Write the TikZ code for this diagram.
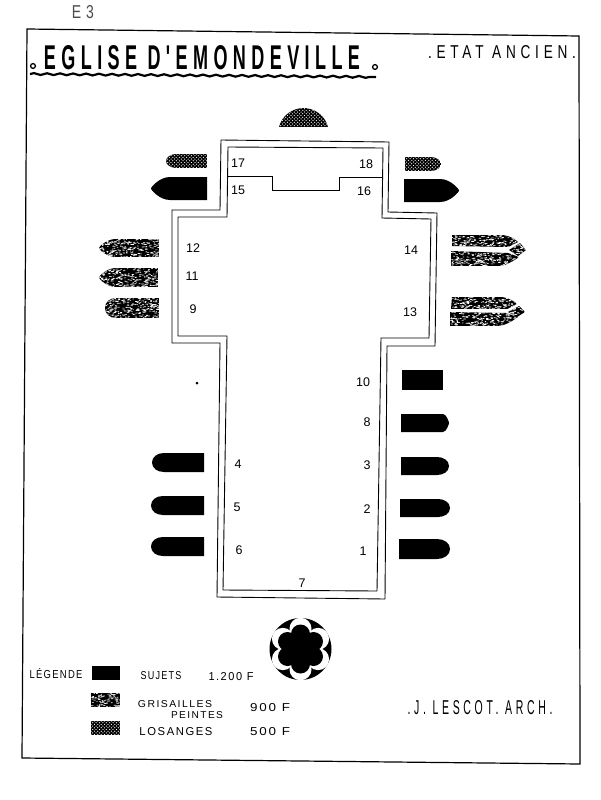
\documentclass[tikz,border=0pt]{standalone}
\usepackage{graphicx}
\usepackage{fontspec}
\setmainfont{Liberation Sans}
\newfontfamily\titlefont[LetterSpace=30]{Liberation Sans}
\newfontfamily\thinfont[LetterSpace=14]{Liberation Sans}
\newfontfamily\widefont[LetterSpace=35]{Liberation Sans}
\usetikzlibrary{decorations.pathmorphing}
\tikzset{
  plan/.style={line width=.9pt,draw=black,line join=miter},
  sujet/.style={fill=black},
  lbl/.style={inner sep=0pt,font=\fontsize{12.5}{14}\selectfont,text=black},
  fitted/.style={inner sep=0pt,text=black},
}
% tip x, base x, top y, bottom y, signed head length, roundness
\newcommand\winpath[6]{(#2,#3) -- ({#1+#5},#3) .. controls ({#1+0.45*#5},#3) and (#1,{(#3+#4)/2-#6*(#4-#3)/2}) .. (#1,{(#3+#4)/2}) .. controls (#1,{(#3+#4)/2+#6*(#4-#3)/2}) and ({#1+0.45*#5},#4) .. ({#1+#5},#4) -- (#2,#4) -- cycle}
% path, seed, xmin, xmax, ymin, ymax
\newcommand\grisaille[6]{\begin{scope}
  \clip #1;
  \fill[black] (#3,#5) rectangle (#4,#6);
  \pgfmathsetseed{#2}
  \pgfmathtruncatemacro\nsp{(#4-#3)*(#6-#5)/4.5}
  \foreach \i in {1,...,\nsp}{
    \pgfmathsetmacro\sx{#3+rnd*(#4-#3)}
    \pgfmathsetmacro\sy{#5+rnd*(#6-#5)}
    \pgfmathsetmacro\sl{0.5+rnd*1.8}
    \draw[white,line width=.65pt,line cap=round] (\sx,\sy) -- ++(\sl,0.4*rnd-0.2);
  }
\end{scope}}
% path, xmin, xmax, ymin, ymax : black ground with a staggered mesh of white dots
\newcommand\losange[5]{\begin{scope}
  \clip #1;
  \fill[black] (#2,#4) rectangle (#3,#5);
  \pgfmathtruncatemacro\ncols{(#3-#2)/1.7+1}
  \pgfmathtruncatemacro\nrows{(#5-#4)/1.7+1}
  \foreach \c in {0,...,\ncols}{
    \foreach \r in {0,...,\nrows}{
      \pgfmathtruncatemacro\evenodd{mod(\c+\r,2)}
      \ifnum\evenodd=0
        \fill[white] ({#2+\c*1.7},{#4+\r*1.7}) circle (.62);
      \fi
    }
  }
\end{scope}}
\newcommand\fittext[3]{\resizebox{#1pt}{#2pt}{#3}}
\begin{document}
\begin{tikzpicture}[x=1pt,y=-1pt]
\useasboundingbox (0,0) rectangle (600,800);
\fill[white] (0,0) rectangle (600,800);

% frame
\draw[line width=1.2pt,line join=miter] (27,29) -- (579,36) -- (580,764) -- (22,758) -- cycle;

% heading
\node[fitted,font=\titlefont\bfseries] (title) at (202,58) {\fittext{316}{24}{EGLISE D'EMONDEVILLE}};
\draw[line width=1.3pt,fill=white] (33,66) circle (2.4);
\draw[line width=1.3pt,fill=white] (375,67) circle (2.4);
\draw[line width=2.2pt,decorate,decoration={snake,amplitude=.9pt,segment length=13pt}] (30,74) -- (376,77);
\node[fitted,font=\widefont] (etat) at (502,52) {\fittext{148}{13}{.ETAT ANCIEN.}};
\node[fitted,font=\widefont,text=black!70] (e3) at (83,12) {\fittext{22}{13}{E3}};

% plan: outer and inner walls
\draw[plan] (221,140) -- (389,142) -- (388,212) -- (437,213) -- (435,346) -- (387,346) -- (385,599) -- (217,597) -- (220,343) -- (172,343) -- (172,210) -- (220,210) -- cycle;
\draw[plan] (228,147) -- (383,148) -- (382,218) -- (431,219) -- (429,338) -- (381,338) -- (377,591) -- (223,590) -- (227,336) -- (178,336) -- (178,217) -- (227,217) -- cycle;
\draw[plan] (228,176) -- (272,176) -- (272,190) -- (339,190) -- (339,177) -- (383,177);

% numbers
\node[lbl] (n17) at (238,163) {17};
\node[lbl] (n18) at (366,164) {18};
\node[lbl] (n15) at (238,190) {15};
\node[lbl] (n16) at (364,191) {16};
\node[lbl] (n12) at (193,248) {12};
\node[lbl] (n11) at (192,276) {11};
\node[lbl] (n9) at (193,309) {9};
\node[lbl] (n14) at (411,250) {14};
\node[lbl] (n13) at (410,312) {13};
\node[lbl] (n10) at (363,382) {10};
\node[lbl] (n8) at (367,422) {8};
\node[lbl] (n3) at (367,465) {3};
\node[lbl] (n2) at (367,509) {2};
\node[lbl] (n1) at (363,551) {1};
\node[lbl] (n4) at (238,464) {4};
\node[lbl] (n5) at (237,507) {5};
\node[lbl] (n6) at (239,550) {6};
\node[lbl] (n7) at (302,583) {7};
\fill (197,383) circle (1.5);

% apse and choir windows
\losange{(279,127) .. controls (282,115) and (293,108) .. (303.5,108) .. controls (314,108) and (325,115) .. (328,127) -- cycle}{279}{328}{107}{127}
\losange{\winpath{166}{207}{154}{168}{10}{0.5}}{166}{207}{154}{168}
\losange{\winpath{441}{405}{157}{171}{-10}{0.5}}{405}{441}{157}{171}
\fill[sujet] \winpath{151}{207}{177}{200}{19}{0.12};
\fill[sujet] \winpath{459}{404}{179}{202}{-19}{0.12};

% transept grisailles
\grisaille{\winpath{99}{159}{239}{257}{17}{0.15}}{11}{99}{159}{239}{257}
\grisaille{\winpath{99}{158}{268}{287}{17}{0.15}}{12}{99}{158}{268}{287}
\grisaille{\winpath{105}{159}{298}{318}{11}{0.6}}{13}{105}{159}{298}{318}
\grisaille{(452,235) -- (503,235) .. controls (510,236) and (515,239) .. (518,242) -- (508,247) -- (452,246) -- cycle}{14}{452}{518}{235}{247}
\grisaille{(451,251) -- (508,253) -- (519,257) .. controls (512,262) and (505,266) .. (498,266) -- (451,266) -- cycle}{15}{451}{519}{251}{266}
\grisaille{(509,250) -- (520,243) -- (526,250) -- (518,256) -- cycle}{16}{509}{526}{243}{256}
\grisaille{(452,297) -- (502,297) .. controls (509,298) and (514,301) .. (517,304) -- (507,309) -- (451,309) -- cycle}{17}{451}{517}{297}{309}
\grisaille{(450,312) -- (506,313) -- (518,317) .. controls (511,322) and (504,326) .. (497,326) -- (450,326) -- cycle}{18}{450}{518}{312}{326}
\grisaille{(508,312) -- (519,306) -- (525,312) -- (517,317) -- cycle}{19}{508}{525}{306}{317}

% nave windows
\fill[sujet] (402,370) -- (443,370) -- (443,390) -- (402,390) -- cycle;
\fill[sujet] \winpath{449}{401}{414}{432}{-6}{0.12};
\fill[sujet] \winpath{449}{401}{457}{475}{-12}{0.6};
\fill[sujet] \winpath{450}{400}{499}{517}{-12}{0.6};
\fill[sujet] \winpath{450}{399}{539}{559}{-13}{0.6};
\fill[sujet] \winpath{152}{204}{453}{472}{12}{0.6};
\fill[sujet] \winpath{151}{204}{496}{515}{12}{0.6};
\fill[sujet] \winpath{151}{204}{537}{556}{12}{0.6};

% rose
\fill[black] (300.5,649) circle (31);
\foreach \a in {30,90,...,330}{\fill[white] (300.5,649) ++(\a:-20.3) circle (11);}
\fill[white] (300.5,649) circle (20);
\foreach \a in {30,90,...,330}{\fill[black] (300.5,649) ++(\a:-15) circle (9.5);}
\fill[black] (300.5,649) circle (15);

% legend
\node[fitted,font=\thinfont] (leg) at (56,674) {\fittext{53}{10}{LÉGENDE}};
\fill[sujet] (92,666) rectangle (120,680);
\grisaille{(91,693) rectangle (120,707)}{21}{91}{120}{693}{707}
\losange{(91,721) rectangle (120,735)}{91}{120}{721}{735}
\node[fitted,font=\thinfont] (t1) at (161,676) {\fittext{41}{8}{SUJETS}};
\node[fitted,font=\thinfont] (p1) at (231,677) {\fittext{45}{8}{1.200 F}};
\node[fitted,font=\thinfont] (t2) at (175,704) {\fittext{74}{7}{GRISAILLES}};
\node[fitted,font=\thinfont] (t2b) at (197,715) {\fittext{52}{7}{PEINTES}};
\node[fitted,font=\thinfont] (p2) at (270,708) {\fittext{40}{8}{900 F}};
\node[fitted,font=\thinfont] (t3) at (176,732) {\fittext{73}{8}{LOSANGES}};
\node[fitted,font=\thinfont] (p3) at (270,732) {\fittext{40}{8}{500 F}};
\node[fitted,font=\widefont] (sig) at (480,708) {\fittext{145}{14}{.J. LESCOT. ARCH.}};
\end{tikzpicture}
\end{document}
